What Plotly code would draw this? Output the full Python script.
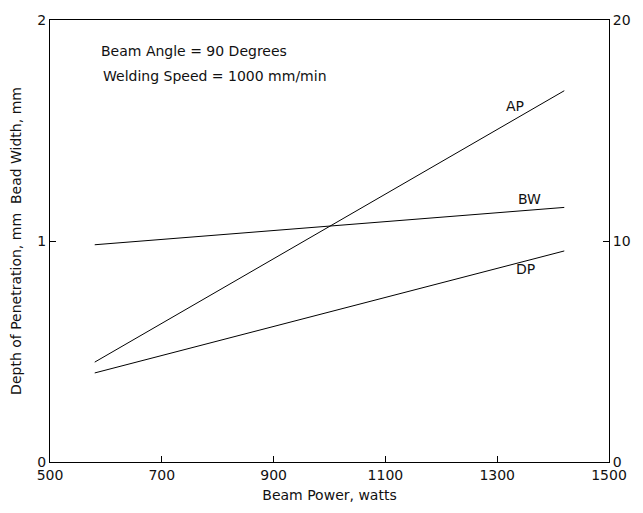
import plotly.graph_objects as go

# Beam power range covered by the fitted lines (watts)
power = [580, 1420]

# Fitted responses at each end of the power range
ap_values = [0.452, 1.68]     # AP, left axis
dp_values = [0.403, 0.955]    # depth of penetration, mm (left axis)
bw_values = [9.83, 11.52]     # bead width, mm (right axis)

x_ticks = [500, 700, 900, 1100, 1300, 1500]
left_ticks = [0, 1, 2]
right_ticks = [0, 10, 20]

font_family = "DejaVu Sans, Verdana, sans-serif"
ink = "#111111"
fsize = 14

fig = go.Figure()

line_style = dict(color="black", width=1)
fig.add_trace(go.Scatter(x=power, y=ap_values, mode="lines", line=line_style,
                         name="AP", showlegend=False))
fig.add_trace(go.Scatter(x=power, y=dp_values, mode="lines", line=line_style,
                         name="DP", showlegend=False))
fig.add_trace(go.Scatter(x=power, y=bw_values, mode="lines", line=line_style,
                         name="BW", yaxis="y2", showlegend=False))

# Curve labels
labels = [
    ("AP", 1332, 1.61),
    ("BW", 1357, 1.19),
    ("DP", 1350, 0.872),
]
for text, lx, ly in labels:
    fig.add_annotation(x=lx, y=ly, text=text, showarrow=False,
                       font=dict(family=font_family, size=fsize, color=ink))

# Operating conditions
fig.add_annotation(x=587, y=1.862, text="Beam Angle = 90 Degrees",
                   xanchor="left", yanchor="middle", showarrow=False,
                   font=dict(family=font_family, size=fsize, color=ink))
fig.add_annotation(x=591, y=1.748, text="Welding Speed = 1000 mm/min",
                   xanchor="left", yanchor="middle", showarrow=False,
                   font=dict(family=font_family, size=fsize, color=ink))

axis_common = dict(
    showgrid=False, zeroline=False, showline=True, linecolor="black",
    linewidth=1, ticks="inside", ticklen=6, tickcolor="black",
    tickfont=dict(family=font_family, size=fsize, color=ink),
)

fig.update_layout(
    width=643, height=513,
    margin=dict(l=50, r=23, t=15, b=50),
    plot_bgcolor="white", paper_bgcolor="white",
    xaxis=dict(range=[500, 1500], tickvals=x_ticks, mirror=True,
               title=dict(text="Beam Power, watts", standoff=8,
                          font=dict(family=font_family, size=fsize, color=ink)),
               **axis_common),
    yaxis=dict(range=[0, 2], tickvals=left_ticks,
               title=dict(text="Depth of Penetration, mm  Bead Width, mm", standoff=12,
                          font=dict(family=font_family, size=fsize, color=ink)),
               **axis_common),
    yaxis2=dict(range=[0, 20], tickvals=right_ticks, overlaying="y", side="right",
                **axis_common),
)

fig.write_html("out.html")
